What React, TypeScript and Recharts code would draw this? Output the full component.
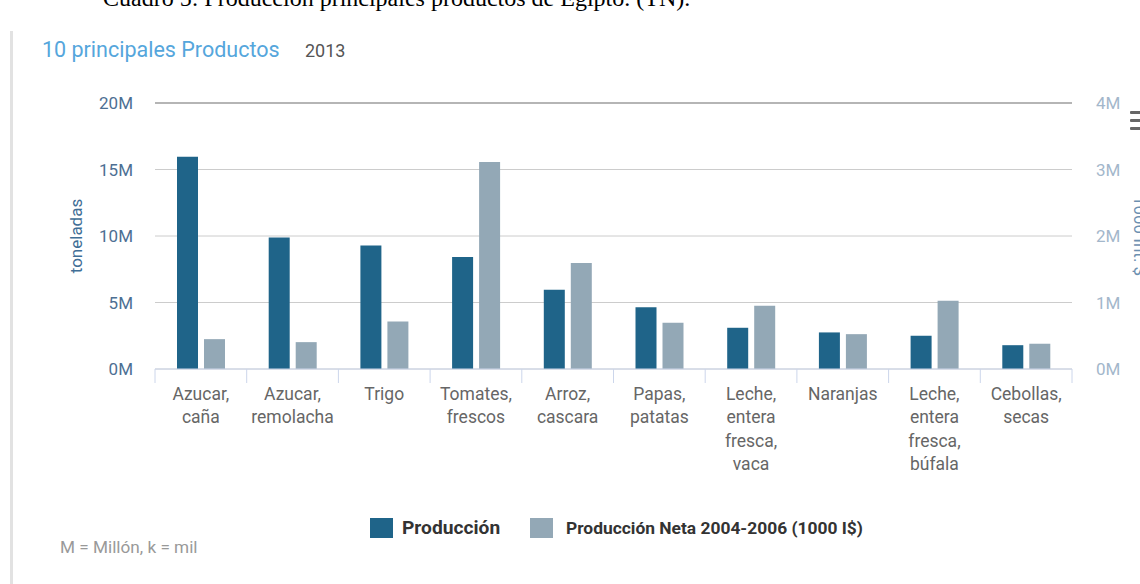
import React from 'react';
import { BarChart, Bar, XAxis, YAxis, CartesianGrid, ReferenceLine } from 'recharts';

const categories = [
  'Azucar, caña',
  'Azucar, remolacha',
  'Trigo',
  'Tomates, frescos',
  'Arroz, cascara',
  'Papas, patatas',
  'Leche, entera fresca, vaca',
  'Naranjas',
  'Leche, entera fresca, búfala',
  'Cebollas, secas',
];
const produccion = [15960000, 9890000, 9280000, 8430000, 5950000, 4650000, 3100000, 2750000, 2500000, 1790000];
const produccionNeta = [449000, 404000, 716000, 3112000, 1594000, 696000, 952000, 524000, 1028000, 380000];
const leftTicks = [0, 5000000, 10000000, 15000000, 20000000];
const rightTicks = [0, 1000000, 2000000, 3000000, 4000000];

const seriesNames = ['Producción', 'Producción Neta 2004-2006 (1000 I$)'];
const leftAxisTitle = 'toneladas';
const rightAxisTitle = '1000 Int. $';
const chartTitle = '10 principales Productos';
const chartYear = '2013';
const caption = 'Cuadro 5: Producción principales productos de Egipto. (TN).';
const footnote = 'M = Millón, k = mil';

const COLOR_PROD = '#1f6489';
const COLOR_NET = '#93a8b6';
const FONT = 'Roboto, "Noto Sans", sans-serif';

const data = categories.map((name, i) => ({
  name,
  prod: produccion[i],
  net: produccionNeta[i],
}));

const W = 1140;
const H = 584;
const LEFT_W = 155;
const RIGHT_W = 68;
const TOP = 103;
const BOTTOM_Y = 369;
const HALF_BAND = (W - LEFT_W - RIGHT_W) / categories.length / 2;

const fmtM = (v: number) => `${Math.round(v / 1000000)}M`;

const XTick = (props: any) => {
  const { x, y, payload, index } = props;
  const lines = String(payload.value).split(' ');
  return (
    <g>
      <line x1={x - HALF_BAND} x2={x - HALF_BAND} y1={y} y2={y + 14} stroke="#ccd6eb" strokeWidth={1} />
      {index === categories.length - 1 && (
        <line x1={x + HALF_BAND} x2={x + HALF_BAND} y1={y} y2={y + 14} stroke="#ccd6eb" strokeWidth={1} />
      )}
      <text x={x} y={y + 31} textAnchor="middle" fill="#666666" fontSize={17.5} fontFamily={FONT}>
        {lines.map((l, i) => (
          <tspan key={i} x={x} dy={i === 0 ? 0 : 23.3}>
            {l}
          </tspan>
        ))}
      </text>
    </g>
  );
};

export default function App() {
  return (
    <div style={{ position: 'absolute', left: 0, top: 0, width: W, height: H, background: '#fff', overflow: 'hidden' }}>
      <svg width={W} height={H} style={{ position: 'absolute', left: 0, top: 0 }}>
        <text x={103} y={6} fontFamily='"Liberation Serif", "Times New Roman", serif' fontSize={24} fill="#000">
          {caption}
        </text>
        <rect x={10} y={31} width={3} height={H - 31} fill="#e2e2e2" />
        <text x={42} y={57} fontFamily={FONT} fontSize={21.5} fill="#55a6dc">
          {chartTitle}
        </text>
        <text x={305} y={57} fontFamily={FONT} fontSize={18} fill="#555555">
          {chartYear}
        </text>
        <g fill="#666666">
          <rect x={1130} y={111} width={14} height={3} rx={1} />
          <rect x={1130} y={119} width={14} height={3} rx={1} />
          <rect x={1130} y={127} width={14} height={3} rx={1} />
        </g>
        <text transform="translate(1134,236) rotate(90)" textAnchor="middle" fontFamily={FONT} fontSize={17} fill="#6d8fb0">
          {rightAxisTitle}
        </text>
        <rect x={370} y={518} width={23} height={20} fill={COLOR_PROD} />
        <text x={402} y={534} fontFamily={FONT} fontSize={19.2} fontWeight="bold" fill="#333333">
          {seriesNames[0]}
        </text>
        <rect x={530} y={518} width={23} height={20} fill={COLOR_NET} />
        <text x={566} y={534} fontFamily={FONT} fontSize={17.4} fontWeight="bold" fill="#333333">
          {seriesNames[1]}
        </text>
        <text x={60} y={553} fontFamily={FONT} fontSize={17.2} fill="#999999">
          {footnote}
        </text>
      </svg>
      <div style={{ position: 'absolute', left: 0, top: 0 }}>
        <BarChart
          width={W}
          height={H}
          data={data}
          margin={{ top: TOP, right: 0, left: 0, bottom: H - BOTTOM_Y - 30 }}
          barSize={21}
          barGap={6}
        >
          <CartesianGrid yAxisId="left" vertical={false} stroke="#cccccc" strokeWidth={1} />
          <XAxis
            dataKey="name"
            interval={0}
            height={30}
            tickLine={false}
            tickSize={0}
            tickMargin={0}
            axisLine={{ stroke: '#ccd6eb', strokeWidth: 1 }}
            tick={<XTick />}
          />
          <YAxis
            yAxisId="left"
            orientation="left"
            width={LEFT_W}
            domain={[0, 20000000]}
            ticks={leftTicks}
            tickFormatter={fmtM}
            axisLine={false}
            tickLine={false}
            tickSize={0}
            tickMargin={22}
            tick={{ fill: '#4d6f93', fontSize: 17, fontFamily: FONT }}
            label={{
              value: leftAxisTitle,
              angle: -90,
              position: 'insideLeft',
              offset: 76,
              style: { textAnchor: 'middle', fill: '#3f6e96', fontSize: 17, fontFamily: FONT },
            }}
          />
          <YAxis
            yAxisId="right"
            orientation="right"
            width={RIGHT_W}
            domain={[0, 4000000]}
            ticks={rightTicks}
            tickFormatter={fmtM}
            axisLine={false}
            tickLine={false}
            tickSize={0}
            tickMargin={24}
            tick={{ fill: '#a3b7cb', fontSize: 17, fontFamily: FONT }}
          />
          <ReferenceLine yAxisId="left" y={20000000} stroke="#b5b5b5" strokeWidth={2} />
          <Bar yAxisId="left" dataKey="prod" name={seriesNames[0]} fill={COLOR_PROD} isAnimationActive={false} />
          <Bar yAxisId="right" dataKey="net" name={seriesNames[1]} fill={COLOR_NET} isAnimationActive={false} />
        </BarChart>
      </div>
    </div>
  );
}
